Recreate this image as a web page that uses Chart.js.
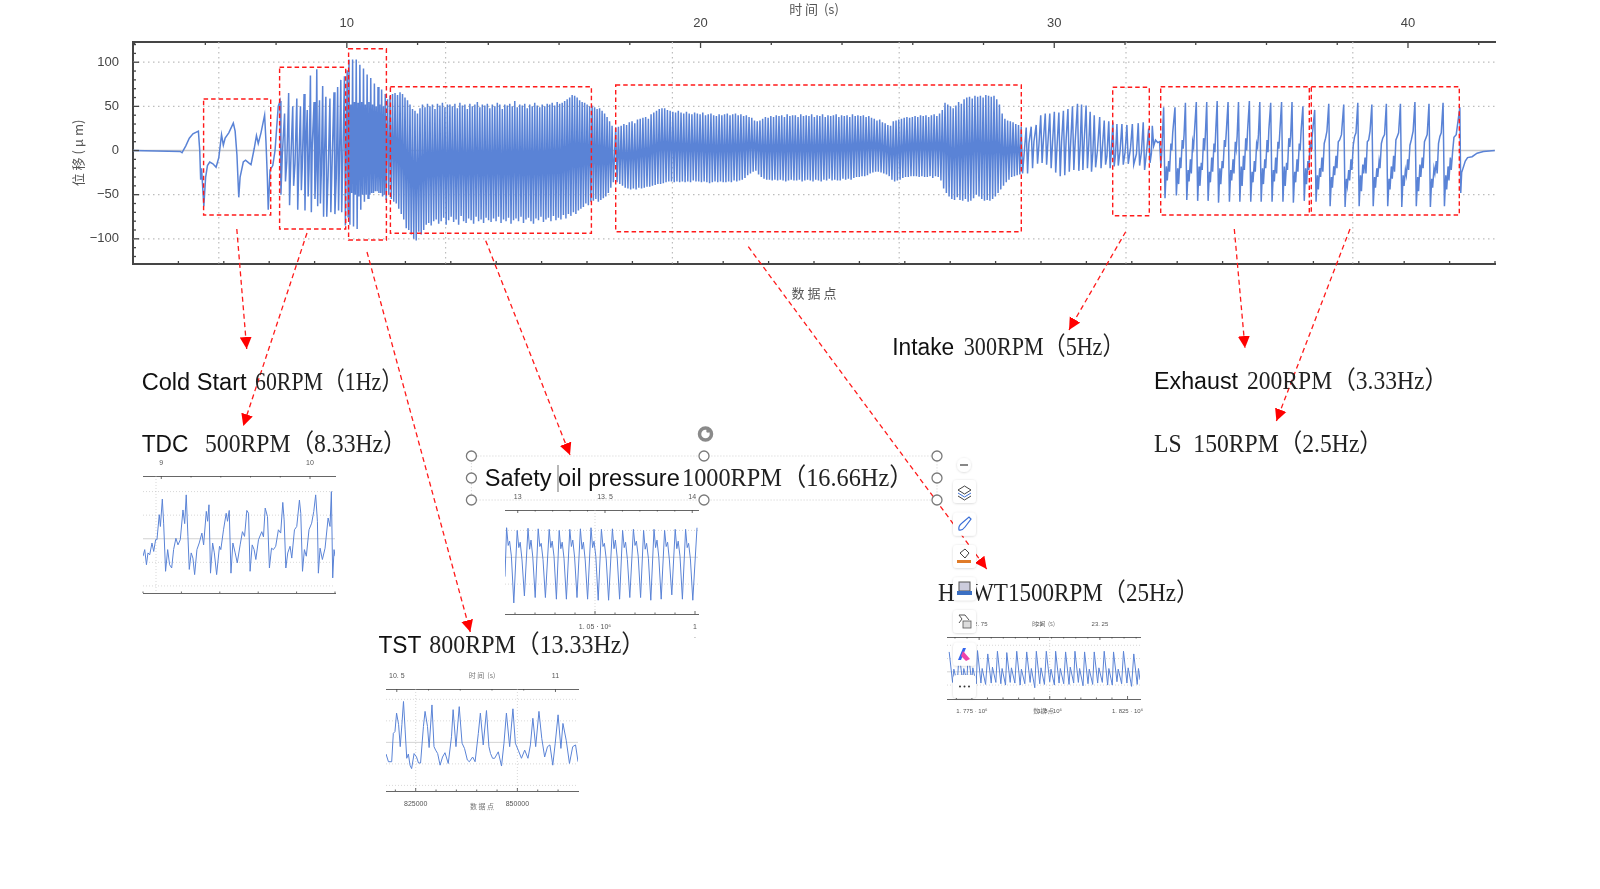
<!DOCTYPE html>
<html>
<head>
<meta charset="utf-8">
<title>位移</title>
<script src="https://cdn.jsdelivr.net/npm/chart.js@4/dist/chart.umd.min.js"></script>
<style>
  html, body { margin: 0; background: #fff; }
  body { position: relative; width: 1600px; height: 889px; overflow: hidden; }
  canvas { position: absolute; }
  svg { position: absolute; left: 0; top: 0; }
</style>
</head>
<body>
<canvas id="mainChart" width="1600" height="320" style="left:0;top:0"></canvas>
<canvas id="tdcChart"></canvas>
<canvas id="tstChart"></canvas>
<canvas id="safetyChart"></canvas>
<canvas id="hwtChart"></canvas>
<svg id="notes" width="1600" height="889" xmlns="http://www.w3.org/2000/svg"></svg>
<script>
// x values are in thousands of data points, y values in micrometres

// main trace, section by section
const coldX = [311,415,419,427,435,443,455,458,460,462,467,471,475,480,487,494,500,506,510,514,522,532,536,540,544,547,554,559,566,571,578,583,587,593,601,604,607,609,613,619,624,631];
const coldY = [0,-1,-2.5,5,14,19,22,0,-33,-20,-63,-30,-17,-13,-15,-19,-8,18,6,14,20,31,22,-5,-53,-30,-13,-11,-14,-16,2,17,8,20,40,10,-30,-67,-22,-17,0,50];

const tdcZoneX = [635,637,640,645,647,650,654,656,659,663,665,668,672,674,677,680,682,684,688,690,692,695,697,699,702,704,706,710,712,714,716,718,720,722,724,726,729,731,733,736,738,741,745,747,750,754,756,759,762,764,766,769,771,773,777,779,781,783,785];
const tdcZoneY = [56,-50,-5,42,-35,-12,65,-62,-8,50,-40,-15,59,-67,-5,50,-45,-18,64,-68,2,46,-52,-20,85,-70,5,55,-55,-22,92,-63,8,57,-60,-25,73,-75,-8,61,-75,-28,59,-70,-10,66,-72,-30,72,-68,-12,80,-70,-20,84,-85,-5,91,-75];

const tstZoneX = [787,789,791,793,795,797,799,801,803,805,807,809,811,813,815,817,819,821,823,825,827,829,831,833,835,837,839,841,843,845,847,849,851,853,855,857,859,861,863,865,867,869];
const tstZoneY = [103,-84,52,-48,103,-86,55,-50,103,-89,54,-52,97,-67,55,-50,93,-58,52,-50,86,-54,55,-50,82,-48,52,-48,76,-46,50,-46,72,-48,52,-48,69,-52,50,-50,64,-56];

// dense stretches: one high and one low per sampling step
const safetyStart = 872, safetyStep = 5.5;
const safetyHi = [58,62,64,65,63,66,64,60,57,52,47,45,42,48,52,49,53,50,52,47,53,51,54,49,52,52,50,53,48,54,51,52,47,53,50,52,55,49,52,51,53,48,52,50,54,52,47,52,51,53,50,56,49,52,51,53,48,52,50,54,51,49,52,50,53,52,54,51,55,53,54,56,58,60,63,62,60,57,55,54,52,50,51,49,47,48,45,42,38,33,28];
const safetyLo = [-50,-55,-58,-60,-66,-72,-78,-88,-90,-95,-100,-102,-92,-95,-90,-84,-82,-85,-80,-78,-83,-80,-76,-84,-79,-75,-81,-78,-84,-74,-80,-82,-77,-79,-83,-75,-80,-78,-82,-76,-79,-81,-77,-80,-75,-82,-78,-80,-76,-83,-79,-77,-80,-75,-82,-78,-76,-80,-83,-77,-79,-75,-81,-78,-76,-80,-74,-79,-76,-78,-73,-77,-72,-74,-70,-72,-68,-66,-64,-60,-62,-58,-57,-55,-58,-56,-54,-52,-48,-42,-36];

const hwtStart = 1375, hwtStep = 6;
const hwtHi = [26,27,28,30,29,32,33,31,35,36,37,38,36,41,43,45,47,48,48,46,45,44,43,45,43,42,44,42,41,43,42,41,43,40,41,42,40,39,41,40,41,42,40,41,42,40,41,39,40,38,37,34,33,34,36,38,37,39,38,40,39,40,38,41,39,40,40,38,41,39,40,39,41,38,40,39,41,38,40,39,40,41,38,40,39,40,38,41,39,40,39,40,38,39,37,36,34,35,32,31,29,28,33,34,35,36,37,38,37,38,39,38,40,39,40,38,40,41,39,42,46,54,52,50,48,51,55,53,58,60,61,59,62,61,62,60,63,62,61,62,58,52,42,36,34,33,32,30,29,27];
const hwtLo = [-36,-38,-40,-42,-43,-44,-43,-44,-42,-43,-42,-41,-41,-40,-39,-38,-38,-37,-36,-35,-35,-36,-35,-36,-35,-36,-35,-36,-34,-35,-35,-36,-35,-36,-37,-36,-35,-36,-35,-36,-36,-35,-36,-34,-35,-34,-33,-31,-28,-26,-24,-23,-27,-30,-32,-33,-33,-34,-33,-34,-33,-34,-35,-34,-33,-34,-34,-33,-35,-34,-33,-34,-35,-33,-34,-35,-33,-34,-32,-34,-33,-34,-34,-32,-33,-32,-33,-31,-30,-30,-29,-29,-28,-26,-25,-24,-24,-25,-26,-27,-29,-33,-35,-34,-33,-31,-30,-30,-29,-29,-29,-30,-29,-30,-30,-29,-31,-29,-30,-34,-43,-48,-52,-55,-56,-53,-56,-57,-55,-58,-57,-54,-50,-52,-55,-57,-56,-57,-55,-52,-48,-44,-40,-36,-33,-30,-29,-28,-27,-26];

const intakeX = [2280,2283,2286,2291,2294,2297,2302,2305,2308,2312,2315,2318,2322,2325,2328,2332,2335,2338,2342,2345,2348,2352,2355,2358,2362,2365,2368,2372,2375,2378,2382,2385,2388,2393,2396,2399,2402,2405,2408,2412,2415,2418,2421,2424,2427,2430,2433,2437,2442,2445,2448,2452,2455,2458,2462,2465,2468,2471,2474,2477,2480,2483,2487,2491,2494,2498,2502,2505,2510,2514,2517,2523,2527,2530,2534,2538,2541,2546,2550,2553,2556,2558,2561,2565,2570,2574,2577,2579];
const intakeY = [26,-26,8,27,-20,10,29,-15,6,40,-14,12,42,-16,10,42,-20,8,44,-25,5,43,-29,10,45,-28,12,47,-24,8,50,-22,10,53,-23,6,52,-22,12,51,-20,8,44,-24,-2,40,-19,0,38,-20,3,34,-16,-6,33,-20,2,32,-18,-4,30,-17,0,30,-16,-2,29,-15,3,30,-16,-4,31,-17,-2,32,-22,2,25,-14,-3,28,5,12,9,10,-18,0];

const exhaustX = [2583,2586,2589,2591,2594,2596,2599,2601,2603,2608,2611,2614,2616,2619,2621,2624,2626,2628,2631,2634,2637,2639,2642,2644,2647,2649,2651,2655,2658,2661,2663,2666,2668,2671,2673,2675,2678,2681,2684,2686,2689,2691,2694,2696,2698,2701,2704,2707,2709,2712,2714,2717,2719,2721,2725,2728,2731,2733,2736,2738,2741,2743,2745,2748,2751,2754,2756,2759,2761,2764,2766,2768,2772,2775,2778,2780,2783,2785,2788,2790,2792,2795,2798,2801,2803,2806,2808,2811,2813,2815,2819,2822,2825,2827,2830,2832,2835,2837,2839,2843,2846,2849,2851,2854,2856,2859,2861,2863,2866,2869,2872,2874,2877,2879,2882,2884,2886,2890,2893,2896,2898,2901,2903,2906,2908,2910];
const exhaustY = [49,-54,-18,-34,-12,-24,8,0,20,49,-51,-20,-38,-8,-20,12,2,18,54,-56,-22,-35,-10,-26,10,4,22,55,-57,-18,-40,-14,-22,14,0,18,55,-57,-24,-36,-8,-24,8,-2,24,56,-59,-20,-38,-12,-20,12,4,20,55,-58,-22,-34,-10,-26,10,2,16,55,-58,-18,-40,-6,-22,14,0,22,56,-58,-24,-36,-12,-24,8,4,18,55,-58,-20,-38,-10,-20,12,-2,24,54,-58,-22,-35,-8,-26,10,2,20,55,-58,-18,-40,-14,-22,14,4,16,55,-59,-24,-36,-10,-24,8,0,22,50,-57,-20,-38,-12,-22,10,2,14];

const lsX = [2916,2919,2922,2924,2927,2929,2932,2934,2937,2940,2943,2947,2950,2953,2955,2958,2960,2963,2965,2968,2971,2975,2980,2983,2986,2988,2991,2993,2996,2998,3001,3004,3007,3011,3014,3017,3019,3022,3024,3027,3029,3032,3035,3038,3042,3045,3048,3050,3053,3055,3058,3060,3063,3066,3070,3074,3077,3080,3082,3085,3087,3090,3092,3095,3098,3101,3105,3108,3111,3113,3116,3118,3121,3123,3126,3129,3133,3137,3140,3143,3145,3148,3150,3153,3155,3158,3161,3164,3168,3171,3174,3176,3179,3181,3184,3186,3189,3192,3195,3199,3202,3205,3207,3210,3212,3215,3217,3220,3223,3228,3236,3238,3240,3248,3253,3263,3274,3288,3313];
const lsY = [46,-58,-28,-44,-20,-30,-8,-24,8,14,22,53,-63,-30,-42,-18,-28,-6,-20,10,12,18,52,-64,-32,-40,-22,-34,-10,-22,6,16,20,54,-63,-28,-46,-16,-26,-8,-26,10,12,22,52,-63,-30,-42,-20,-30,-12,-20,8,14,18,53,-63,-32,-44,-18,-32,-6,-24,12,16,20,53,-64,-28,-40,-22,-28,-10,-22,6,12,22,55,-63,-30,-46,-16,-30,-8,-20,10,14,18,53,-64,-32,-42,-20,-26,-12,-26,8,16,20,54,-63,-28,-44,-18,-34,-8,-22,-2,15,18,49,-48,-25,-12,-8,-7,-3,-1,0];

// main axes
const mainXTicks = [500,1000,1500,2000,2500,3000];
const mainXLabels = ['500000','1 · 10⁶','1. 5 · 10⁶','2 · 10⁶','2. 5 · 10⁶','3 · 10⁶'];
const mainTimeTicks = [10,20,30,40];
const mainTimeLabels = ['10','20','30','40'];
const mainYTicks = [-100,-50,0,50,100];
const mainYLabels = ['−100','−50','0','50','100'];

// TDC inset
const tdcX = [693.2,694.1,695,695.8,696.7,697.9,698.8,699.8,700.5,701.7,702.3,703.3,704,705,706.1,707.1,708.2,709.2,710.4,711.5,712.7,714.1,715,715.8,716.7,717.4,718.4,719.3,720.2,721.4,722.6,724,724.9,726.3,727,727.7,728.5,729.6,730.5,731.7,733.2,733.9,735.3,736.7,737.4,738.3,739.2,740.2,741.4,742.5,744,745.2,746.3,747.5,748.4,749.2,750.3,751.3,752.2,753.6,755.3,756.2,757.1,758.3,759.3,760.4,761.4,762.6,764,765.2,766.3,767,767.9,768.9,770.1,771,772.4,773.6,775,775.7,776.6,777.6,778.6,780,781.4,782.5,783.5,784.4,784.9,785.8,787,788.4,790,791,791.7,792.4,793.1,793.6];
const tdcY = [-37,-23,-55,-30,-34,-9,-27,-2,-2,51,26,84,33,-69,-23,-55,-62,-23,1,-13,-2,61,32,93,5,-65,-30,-41,-76,-23,-9,12,-13,58,37,72,-73,-9,-30,-76,-16,-23,19,54,37,60,-73,-9,-30,-51,-13,15,5,60,54,-69,-13,-23,-44,-2,15,4,65,47,-62,-20,-23,-16,19,12,77,40,-62,-30,-16,-41,19,26,82,54,-69,-23,-37,19,33,58,93,37,-73,-20,-44,-20,44,26,100,-83,-23,-37];

// TST inset
const tstX = [817.7,818.3,819.1,819.5,819.9,820.3,820.8,821.2,821.6,822,822.4,822.8,823.2,823.6,824,824.6,825.2,825.7,826.2,826.9,827.3,827.9,828.3,829,829.5,829.9,830.4,831,831.6,832.2,833,833.8,834.2,834.9,835.7,836.4,837,837.7,838.2,839,839.6,840.4,840.9,841.6,842.4,843,843.4,843.9,844.4,845.3,846.1,846.7,847.3,848.1,848.9,849.5,850.2,851,851.8,852.6,853.2,853.8,854.5,855.3,856,856.7,857.4,858,858.7,859.3,860,860.7,861.2,862,862.8,863.6,864.3,864.9];
const tstY = [-27,-45,-45,21,25,68,41,-10,41,95,29,-37,-27,-53,-61,-26,-34,-48,-48,37,72,37,-12,87,-10,-18,-26,-53,-34,-24,-49,13,76,-10,83,-2,-14,-41,-45,-34,-45,21,68,-6,74,-10,-26,-37,-37,-22,-55,-2,68,-10,78,-2,-18,-37,-18,-37,-6,56,-10,72,9,-34,-10,-6,-53,-2,64,-14,44,5,-49,-10,-6,-45];

// safety oil pressure inset
const safetyInsetX = [1005,1005.8,1006.6,1007.3,1008.2,1009.4,1011.1,1011.9,1012.6,1013.5,1014.7,1016.5,1017.3,1018,1018.9,1020.1,1021.6,1022.4,1023.1,1024,1025.2,1027.1,1027.9,1028.6,1029.5,1030.7,1032.1,1032.9,1033.6,1034.5,1035.7,1037.4,1038.2,1038.9,1039.8,1041,1042.7,1043.5,1044.2,1045.1,1046.3,1048,1048.8,1049.5,1050.4,1051.6,1053.2,1054,1054.7,1055.6,1056.8,1058.7,1059.5,1060.2,1061.1,1062.3,1063.8,1064.6,1065.3,1066.2,1067.4,1069.2,1070,1070.7,1071.6,1072.8,1074.3,1075.1,1075.8,1076.7,1077.9,1079.5,1080.3,1081,1081.9,1083.1,1084.8,1085.6,1086.3,1087.2,1088.4,1090.1,1090.9,1091.6,1092.5,1093.7,1095.3,1096.1,1096.8,1097.7,1098.9,1101];
const safetyInsetY = [-36,55,22,30,2,-85,50,18,28,-5,-72,54,15,32,0,-75,53,20,26,-4,-75,52,18,30,2,-78,50,16,28,-2,-78,52,20,32,0,-75,53,15,28,-5,-78,55,18,30,2,-80,52,20,26,-3,-80,53,16,32,0,-78,50,18,28,-4,-75,52,22,30,2,-75,50,15,26,-2,-80,52,18,32,0,-78,50,20,28,-5,-70,52,16,30,2,-78,52,18,26,-3,-80,55];

// HWT inset
const hwtInsetX = [1767.7,1768.8,1769.2,1770.3,1770.9,1772,1772.4,1773.4,1773.8,1774.9,1775.3,1776.4,1776.8,1777.9,1778.3,1779.4,1780.1,1781.2,1781.6,1782.7,1783.2,1784.3,1784.7,1785.8,1786.2,1787.3,1787.7,1788.8,1789.4,1790.5,1790.9,1792,1792.6,1793.7,1794.1,1795.2,1795.7,1796.8,1797.2,1798.3,1798.9,1800,1800.4,1801.5,1801.9,1803,1803.4,1804.5,1805.1,1806.2,1806.6,1807.7,1808.1,1809.2,1809.6,1810.7,1811.2,1812.3,1812.7,1813.8,1814.3,1815.4,1815.8,1816.9,1817.5,1818.6,1819,1820.1,1820.5,1821.6,1822,1823.1,1823.7,1824.8,1825.2,1826.3,1827,1828.1,1828.5,1829];
const hwtInsetY = [30,-16,4,-18,29,-15,5,-14,31,-14,6,-18,32,-17,5,-19,27,-17,7,-16,31,-18,5,-20,29,-16,6,-17,31,-20,4,-18,30,-16,5,-24,31,-18,6,-19,31,-15,4,-20,31,-17,5,-18,30,-19,7,-17,31,-16,5,-21,30,-18,4,-19,30,-17,6,-16,31,-20,5,-20,30,-15,4,-18,31,-17,6,-22,27,-19,5,-12];

const LINE_BLUE = '#5a83d6';
const AXIS_DARK = '#454545';
const FONT = 'Liberation Sans, Arial, sans-serif';
const CJK_FONT = '"Noto Sans CJK SC", sans-serif';

function toPoints(xs, ys) {
  return xs.map((x, i) => ({ x, y: ys[i] }));
}

function densePoints(start, step, hi, lo) {
  const pts = [];
  hi.forEach((v, i) => {
    pts.push({ x: start + i * step, y: v });
    pts.push({ x: start + (i + 0.5) * step, y: lo[i] });
  });
  return pts;
}

function labelFrom(vals, labels) {
  return (v) => {
    const i = vals.findIndex((m) => Math.abs(m - v) < 1e-3);
    return i < 0 ? '' : labels[i];
  };
}

function isMajor(vals, v) {
  return vals.some((m) => Math.abs(m - v) < 1e-3);
}

// grid lines under the trace and inward tick marks over it, all from the scales
const frameMarks = {
  id: 'frameMarks',
  beforeDatasetsDraw(chart, args, o) {
    const { ctx, chartArea: a, scales } = chart;
    ctx.save();
    ctx.lineWidth = o.gridWidth;
    ctx.strokeStyle = '#bdbdbd';
    ctx.setLineDash(o.gridDash);
    o.gridX.forEach((v) => {
      const p = scales.x.getPixelForValue(v);
      ctx.beginPath(); ctx.moveTo(p, a.top); ctx.lineTo(p, a.bottom); ctx.stroke();
    });
    o.gridY.forEach((v) => {
      const p = scales.y.getPixelForValue(v);
      ctx.beginPath(); ctx.moveTo(a.left, p); ctx.lineTo(a.right, p); ctx.stroke();
    });
    ctx.setLineDash([]);
    ctx.strokeStyle = '#c8c8c8';
    ctx.lineWidth = o.zeroWidth;
    const z = scales.y.getPixelForValue(0);
    ctx.beginPath(); ctx.moveTo(a.left, z); ctx.lineTo(a.right, z); ctx.stroke();
    ctx.restore();
  },
  afterDatasetsDraw(chart, args, o) {
    const { ctx, chartArea: a, scales } = chart;
    ctx.save();
    ctx.strokeStyle = AXIS_DARK;
    ctx.lineWidth = o.tickWidth;
    scales.x.ticks.forEach((t) => {
      const p = scales.x.getPixelForValue(t.value);
      const len = isMajor(o.xMajor, t.value) ? o.tickLong : o.tickShort;
      ctx.beginPath(); ctx.moveTo(p, a.bottom); ctx.lineTo(p, a.bottom - len); ctx.stroke();
    });
    scales.xTop.ticks.forEach((t) => {
      const p = scales.xTop.getPixelForValue(t.value);
      const len = isMajor(o.topMajor, t.value) ? o.tickLong : o.tickShort;
      ctx.beginPath(); ctx.moveTo(p, a.top); ctx.lineTo(p, a.top + len); ctx.stroke();
    });
    if (o.yTicks) {
      scales.y.ticks.forEach((t) => {
        const p = scales.y.getPixelForValue(t.value);
        const len = isMajor(o.gridY.concat(0), t.value) ? o.tickLong : o.tickShort;
        ctx.beginPath(); ctx.moveTo(a.left, p); ctx.lineTo(a.left + len, p); ctx.stroke();
      });
    }
    ctx.restore();
  },
};

Chart.register(frameMarks);

new Chart(document.getElementById('mainChart'), {
  type: 'line',
  data: {
    datasets: [{
      data: [
        ...toPoints(coldX, coldY),
        ...toPoints(tdcZoneX, tdcZoneY),
        ...toPoints(tstZoneX, tstZoneY),
        ...densePoints(safetyStart, safetyStep, safetyHi, safetyLo),
        ...densePoints(hwtStart, hwtStep, hwtHi, hwtLo),
        ...toPoints(intakeX, intakeY),
        ...toPoints(exhaustX, exhaustY),
        ...toPoints(lsX, lsY),
      ],
      borderColor: LINE_BLUE,
      borderWidth: 1.5,
      pointRadius: 0,
      tension: 0,
      xAxisID: 'x',
    }],
  },
  options: {
    responsive: false,
    animation: false,
    layout: { padding: { left: 0, right: 105, top: 0, bottom: 0 } },
    plugins: {
      legend: { display: false },
      tooltip: { enabled: false },
      frameMarks: {
        gridX: mainXTicks, gridY: [-100, -50, 50, 100], gridDash: [1.5, 3.5], gridWidth: 1.2, zeroWidth: 1.5,
        xMajor: mainXTicks, topMajor: mainTimeTicks, yTicks: true,
        tickLong: 6, tickShort: 3, tickWidth: 1.3,
      },
    },
    scales: {
      x: {
        type: 'linear', position: 'bottom', min: 310.85, max: 3313.5,
        afterFit: (s) => { s.height = 56; },
        grid: { display: false },
        border: { color: AXIS_DARK, width: 2 },
        ticks: {
          stepSize: 100, includeBounds: false, autoSkip: false, maxRotation: 0, padding: 3,
          color: '#444', font: { family: FONT, size: 13 },
          callback: labelFrom(mainXTicks, mainXLabels),
        },
        title: { display: true, text: '数 据 点', color: '#555', font: { family: CJK_FONT, size: 13 }, padding: { top: 0, bottom: 19 } },
      },
      xTop: {
        type: 'linear', position: 'top', min: 3.955, max: 42.46,
        afterFit: (s) => { s.height = 42; },
        grid: { display: false },
        border: { color: AXIS_DARK, width: 2 },
        ticks: {
          stepSize: 2, includeBounds: false, autoSkip: false, maxRotation: 0, padding: 3,
          color: '#444', font: { family: FONT, size: 13 },
          callback: labelFrom(mainTimeTicks, mainTimeLabels),
        },
        title: { display: true, text: '时 间  (s)', color: '#555', font: { family: CJK_FONT, size: 13 }, padding: { top: 1, bottom: 0 } },
      },
      y: {
        min: -128.5, max: 122.9,
        afterFit: (s) => { s.width = 133; },
        grid: { display: false },
        border: { color: AXIS_DARK, width: 2 },
        ticks: {
          stepSize: 10, includeBounds: false, autoSkip: false, padding: 6,
          color: '#444', font: { family: FONT, size: 13 },
          callback: labelFrom(mainYTicks, mainYLabels),
        },
        title: { display: true, text: '位 移 ( μ m)', color: '#555', font: { family: CJK_FONT, size: 13 }, padding: { top: 70, bottom: 0 } },
      },
    },
  },
});

function insetChart(id, c) {
  const el = document.getElementById(id);
  const pad = 24, topH = 24, botH = 28;
  el.width = c.right - c.left + pad * 2;
  el.height = c.bottom - c.top + topH + botH;
  el.style.left = (c.left - pad) + 'px';
  el.style.top = (c.top - topH) + 'px';
  const tickFont = { family: FONT, size: c.fontSize };
  const titleFont = { family: CJK_FONT, size: c.fontSize };
  new Chart(el, {
    type: 'line',
    data: { datasets: [{ data: toPoints(c.xs, c.ys), borderColor: LINE_BLUE, borderWidth: 1, pointRadius: 0, tension: 0 }] },
    options: {
      responsive: false,
      animation: false,
      layout: { padding: { left: pad, right: pad, top: 0, bottom: 0 } },
      plugins: {
        legend: { display: false },
        tooltip: { enabled: false },
        frameMarks: {
          gridX: c.gridX, gridY: c.gridY, gridDash: [1, 2], gridWidth: 0.6, zeroWidth: 0.8,
          xMajor: c.bottomTicks, topMajor: c.topTicks, yTicks: false,
          tickLong: 3, tickShort: 1.5, tickWidth: 0.8,
        },
      },
      scales: {
        x: {
          type: 'linear', position: 'bottom', min: c.xRange[0], max: c.xRange[1],
          afterFit: (s) => { s.height = botH; },
          grid: { display: false },
          border: { color: '#666', width: 1 },
          ticks: {
            stepSize: c.xStep, includeBounds: false, autoSkip: false, maxRotation: 0, padding: 1,
            color: '#555', font: tickFont, callback: labelFrom(c.bottomTicks, c.bottomLabels),
          },
          title: { display: !!c.bottomTitle, text: c.bottomTitle, color: '#777', font: titleFont, padding: { top: 0, bottom: c.bottomTitlePad || 0 } },
        },
        xTop: {
          type: 'linear', position: 'top', min: c.timeRange[0], max: c.timeRange[1],
          afterFit: (s) => { s.height = topH; },
          grid: { display: false },
          border: { color: '#666', width: 1 },
          ticks: {
            stepSize: c.timeStep, includeBounds: false, autoSkip: false, maxRotation: 0, padding: 1,
            color: '#555', font: tickFont, callback: labelFrom(c.topTicks, c.topLabels),
          },
          title: { display: !!c.topTitle, text: c.topTitle, color: '#777', font: titleFont, padding: { top: c.topTitlePad || 0, bottom: 0 } },
        },
        y: { display: false, min: c.yRange[0], max: c.yRange[1] },
      },
    },
  });
}

insetChart('tdcChart', {
  left: 143, right: 335, top: 476, bottom: 593, fontSize: 7,
  xs: tdcX, ys: tdcY, xRange: [693.2, 793.6], xStep: 20, timeRange: [8.877, 10.168], timeStep: 0.2, yRange: [-115, 133],
  bottomTicks: [700], bottomLabels: ['700000'], topTicks: [9, 10], topLabels: ['9', '10'],
  gridX: [700], gridY: [-100, -50, 50, 100],
});

insetChart('tstChart', {
  left: 386, right: 578, top: 689, bottom: 791, fontSize: 7,
  xs: tstX, ys: tstY, xRange: [817.7, 864.9], xStep: 5, timeRange: [10.466, 11.071], timeStep: 0.1, yRange: [-113, 124],
  bottomTicks: [825, 850], bottomLabels: ['825000', '850000'], topTicks: [10.5, 11], topLabels: ['10. 5', '11'],
  gridX: [825, 850], gridY: [-100, -50, 50, 100],
  topTitle: '时 间  (s)', topTitlePad: 6, bottomTitle: '数 据 点', bottomTitlePad: 8,
});

insetChart('safetyChart', {
  left: 505, right: 698, top: 510, bottom: 614, fontSize: 7,
  xs: safetyInsetX, ys: safetyInsetY, xRange: [1005, 1101.5], xStep: 10, timeRange: [12.927, 14.033], timeStep: 0.1, yRange: [-105.6, 88],
  bottomTicks: [1050, 1100], bottomLabels: ['1. 05 · 10⁶', ['1', '.']], topTicks: [13, 13.5, 14], topLabels: ['13', '13. 5', '14'],
  gridX: [1050], gridY: [-50, 50],
});

insetChart('hwtChart', {
  left: 947, right: 1140, top: 637, bottom: 699, fontSize: 6,
  xs: hwtInsetX, ys: hwtInsetY, xRange: [1767, 1829], xStep: 5, timeRange: [22.617, 23.416], timeStep: 0.05, yRange: [-41, 52.5],
  bottomTicks: [1775, 1800, 1825], bottomLabels: ['1. 775 · 10⁶', '1. 8 · 10⁶', '1. 825 · 10⁶'], topTicks: [22.75, 23, 23.25], topLabels: ['22. 75', '23', '23. 25'],
  gridX: [1800], gridY: [-20, 20, 40],
  topTitle: '时 间  (s)', topTitlePad: 7, bottomTitle: '数 据 点', bottomTitlePad: 13,
});

// annotation layer: boxes, arrows, captions and the editor handles
const boxes = [
  [203.6, 99, 270.7, 215], [279.6, 67.3, 345.7, 229], [348.6, 48.7, 386.4, 240], [390.4, 86.7, 591.4, 233.3],
  [615.7, 85, 1021.3, 231.7], [1112.7, 87.3, 1149.3, 215.7], [1160.7, 86.7, 1309.3, 215], [1311.3, 86.7, 1459.3, 215],
];
const arrows = [
  [236.8, 229, 246.7, 349], [307, 233, 243.3, 426], [367, 252, 470.3, 632], [485.7, 240.7, 570, 455],
  [748.3, 246.7, 986.7, 569], [1125.7, 231.7, 1069, 330], [1234.3, 229, 1245, 348], [1350, 229, 1276.4, 421],
];
const sansCaptions = [
  ['Cold Start', 141.7, 389.5, 105], ['TDC', 141.7, 451.5, 46.7], ['Safety oil pressure', 484.8, 486, 195],
  ['TST', 378.4, 652.7, 43], ['Intake', 892.2, 355, 62], ['Exhaust', 1154, 389.3, 84],
];
const serifCaptions = [
  ['60RPM（1Hz）', 255, 389.5, 148], ['500RPM（8.33Hz）', 205, 451.5, 201.7], ['1000RPM（16.66Hz）', 682, 486, 231.5],
  ['800RPM（13.33Hz）', 429.3, 652.7, 216], ['H\u00a0\u00a0\u00a0WT1500RPM（25Hz）', 938, 601, 261], ['300RPM（5Hz）', 963.8, 355, 160.7],
  ['200RPM（3.33Hz）', 1247, 389.3, 201], ['LS\u00a0\u00a0150RPM（2.5Hz）', 1154, 451.7, 229],
];
const handles = [[471.4, 456], [704, 456], [937, 456], [471.4, 478], [937, 478], [471.4, 500], [704, 500], [937, 500]];
const toolButtons = [[953, 480], [953, 512.7], [953, 545], [953, 577.3], [953, 610], [953, 642.7], [953, 675]];

let svg = `<defs>
  <marker id="head" markerUnits="userSpaceOnUse" markerWidth="13" markerHeight="13" refX="12" refY="6.5" orient="auto">
    <path d="M0,0.5 L12,6.5 L0,12.5 Z" fill="#ff0000"/>
  </marker>
  <filter id="soft" x="-30%" y="-30%" width="160%" height="160%"><feDropShadow dx="0" dy="0.5" stdDeviation="1.2" flood-color="#000" flood-opacity="0.18"/></filter>
</defs>`;

boxes.forEach(([x1, y1, x2, y2]) => {
  svg += `<rect x="${x1}" y="${y1}" width="${x2 - x1}" height="${y2 - y1}" fill="none" stroke="#ff1a1a" stroke-width="1.4" stroke-dasharray="4.5 3"/>`;
});
arrows.forEach(([x1, y1, x2, y2]) => {
  svg += `<line x1="${x1}" y1="${y1}" x2="${x2}" y2="${y2}" stroke="#ff1a1a" stroke-width="1.3" stroke-dasharray="5 3.5" marker-end="url(#head)"/>`;
});
// text box selection
svg += `<rect x="471.4" y="456" width="465.6" height="44" fill="none" stroke="#c4c4c4" stroke-width="0.8" stroke-dasharray="1 2"/>`;
svg += `<line x1="558" y1="465" x2="558" y2="492" stroke="#888" stroke-width="1.2"/>`;
sansCaptions.forEach(([t, x, y, w]) => {
  svg += `<text x="${x}" y="${y}" font-family="Liberation Sans, Arial, sans-serif" font-size="23.5" fill="#111" textLength="${w}" lengthAdjust="spacingAndGlyphs">${t}</text>`;
});
serifCaptions.forEach(([t, x, y, w]) => {
  svg += `<text x="${x}" y="${y}" font-family="Liberation Serif, 'Noto Sans CJK SC', serif" font-size="25" fill="#222" textLength="${w}" lengthAdjust="spacingAndGlyphs">${t}</text>`;
});
handles.forEach(([x, y]) => {
  svg += `<circle cx="${x}" cy="${y}" r="5" fill="#fff" stroke="#7a7a7a" stroke-width="1.3"/>`;
});
svg += `<circle cx="705.5" cy="434" r="6" fill="none" stroke="#8a8a8a" stroke-width="3.5"/><circle cx="708" cy="431" r="1.8" fill="#8a8a8a"/>`;

// floating toolbar
svg += `<circle cx="964" cy="465" r="7" fill="#fff" filter="url(#soft)"/><line x1="960" y1="465" x2="968" y2="465" stroke="#555" stroke-width="1.4"/>`;
toolButtons.forEach(([x, y]) => {
  svg += `<rect x="${x}" y="${y}" width="23" height="23" rx="4" fill="#fff" filter="url(#soft)"/>`;
});
svg += `<path d="M958,490 L964.5,486 L971,490 L964.5,494 Z" fill="none" stroke="#444" stroke-width="1"/><path d="M958,493 L964.5,497 L971,493" fill="none" stroke="#3b6fd6" stroke-width="1"/><path d="M958,496 L964.5,500 L971,496" fill="none" stroke="#444" stroke-width="1"/>`;
svg += `<path d="M959,530 Q958,526 962,523 L969,517 L971,519 L965,527 Q962,531 959,530 Z" fill="none" stroke="#3b6fd6" stroke-width="1.2"/>`;
svg += `<path d="M960,553 L965,549 L969,553 L965,558 Z" fill="none" stroke="#444" stroke-width="1"/><rect x="957" y="560" width="14" height="3" fill="#e07b28"/>`;
svg += `<rect x="959" y="582" width="11" height="9" fill="#ccd" stroke="#555" stroke-width="1"/><rect x="957" y="591" width="15" height="4" fill="#3b6fc2"/>`;
svg += `<path d="M959,615 L965,615 L969,620 M959,615 L962,619 L959,623" fill="none" stroke="#555" stroke-width="1"/><rect x="963" y="621" width="8" height="7" fill="#ddd" stroke="#555" stroke-width="0.8"/>`;
svg += `<path d="M958,660 L963,648 L966,648 L961,660 Z" fill="#3366ee"/><path d="M963,651 L970,659 L966,661 L961,656 Z" fill="#ee44aa"/>`;
svg += `<circle cx="960" cy="686.5" r="1" fill="#333"/><circle cx="964.5" cy="686.5" r="1" fill="#333"/><circle cx="969" cy="686.5" r="1" fill="#333"/>`;

document.getElementById('notes').innerHTML = svg;
</script>
</body>
</html>
